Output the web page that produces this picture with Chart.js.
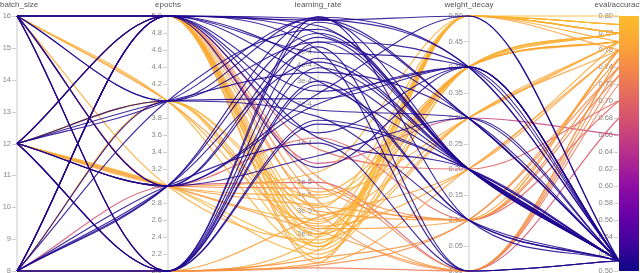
<!DOCTYPE html>
<html>
<head>
<meta charset="utf-8">
<script src="https://cdn.jsdelivr.net/npm/chart.js@4"></script>
<style>
  body { margin: 0; background: #fff; }
  #wrap { width: 640px; height: 273px; }
</style>
</head>
<body>
<div id="wrap"><canvas id="myChart"></canvas></div>
<script>
// colonnes (axes) du graphique
const dimensions = ["batch_size", "epochs", "learning_rate", "weight_decay", "eval/accuracy"];

// un run = même index dans chaque tableau
const batchSize = [
  16, 16, 16, 16, 16, 16, 16, 16, 16, 12, 12, 12, 12, 12, 12, 12, 12, 8, 8, 8,
  8, 8, 8, 8, 8, 8, 8, 8, 12, 16, 12, 8, 16, 12, 8, 16, 12, 8,
  16, 16, 16, 16, 16, 16, 16, 16, 16, 16, 16, 16, 16, 16, 16, 16, 16, 16, 16, 16,
  12, 12, 12, 12, 12, 12, 12, 12, 12, 12, 12, 8, 8, 8, 8, 8, 8, 8, 8, 8, 8, 12, 12, 8
];
const epochs = [
  5, 5, 5, 5, 4, 2, 2, 2, 3, 5, 5, 4, 4, 3, 3, 2, 2, 5, 5, 5,
  5, 4, 4, 3, 3, 3, 2, 2, 2, 5, 3, 5, 3, 5, 2, 4, 4, 3,
  5, 5, 5, 5, 5, 5, 5, 5, 5, 5, 5, 5, 4, 4, 4, 3, 3, 3, 2, 5,
  3, 3, 3, 3, 3, 3, 3, 4, 4, 4, 2, 2, 2, 2, 2, 2, 4, 4, 5, 5, 3, 5, 5, 5
];
const learningRate = [
  9.0e-4, 7.0e-4, 4.0e-4, 2.5e-4, 6.0e-4, 8.5e-4, 3.0e-4, 1.5e-4, 5.5e-4, 8.0e-4,
  1.2e-4, 9.2e-4, 3.5e-4, 6.5e-4, 2.0e-4, 4.5e-4, 9.4e-4, 5.0e-4, 3.0e-4, 8.8e-4,
  1.8e-4, 7.5e-4, 2.2e-4, 4.2e-4, 9.0e-4, 1.0e-4, 6.0e-4, 3.8e-4, 2.8e-4, 1.1e-4,
  8.0e-5, 6.5e-5, 2.4e-4, 5.2e-4, 1.4e-4, 9.3e-4, 1.6e-4, 7.0e-4,
  1.3e-5, 1.6e-5, 1.9e-5, 2.2e-5, 2.5e-5, 2.8e-5, 3.2e-5, 3.6e-5, 4.2e-5, 1.2e-5,
  2.0e-5, 5.5e-5, 1.5e-5, 2.4e-5, 3.0e-5, 1.8e-5, 4.5e-5, 1.1e-4, 1.2e-5, 9.0e-5,
  1.4e-5, 1.7e-5, 2.1e-5, 2.6e-5, 3.3e-5, 4.0e-5, 6.0e-5, 1.6e-5, 2.3e-5, 3.8e-5,
  1.15e-5, 1.1e-5, 1.3e-5, 1.5e-5, 1.9e-5, 2.7e-5, 2.0e-5, 3.4e-5, 1.7e-5, 2.9e-5,
  5.0e-5, 2.2e-5, 4.8e-5, 7.0e-5
];
const weightDecay = [
  0.4, 0.3, 0.2, 0.4, 0.2, 0.3, 0.1, 0.2, 0.0, 0.2, 0.4, 0.2, 0.3, 0.2, 0.4, 0.2, 0.1, 0.4, 0.2, 0.5,
  0.3, 0.2, 0.4, 0.2, 0.3, 0.0, 0.4, 0.2, 0.1, 0.2, 0.3, 0.4, 0.5, 0.0, 0.2, 0.4, 0.1, 0.2,
  0.5, 0.4, 0.5, 0.1, 0.4, 0.3, 0.5, 0.0, 0.4, 0.2, 0.5, 0.1, 0.4, 0.5, 0.1, 0.3, 0.0, 0.1, 0.5, 0.2,
  0.4, 0.5, 0.0, 0.4, 0.1, 0.3, 0.5, 0.5, 0.2, 0.4, 0.1, 0.0, 0.1, 0.5, 0.4, 0.2, 0.3, 0.4, 0.5, 0.0,
  0.0, 0.4, 0.1, 0.3
];
const evalAccuracy = [
  0.512, 0.512, 0.512, 0.512, 0.512, 0.512, 0.512, 0.512, 0.512, 0.512,
  0.512, 0.512, 0.512, 0.512, 0.512, 0.512, 0.512, 0.512, 0.512, 0.512,
  0.512, 0.512, 0.512, 0.512, 0.512, 0.512, 0.512, 0.512, 0.512, 0.512,
  0.512, 0.512, 0.512, 0.512, 0.512, 0.512, 0.512, 0.512,
  0.78, 0.77, 0.79, 0.76, 0.78, 0.77, 0.78, 0.75, 0.77, 0.76, 0.79, 0.74,
  0.78, 0.77, 0.76, 0.77, 0.73, 0.70, 0.76, 0.70,
  0.78, 0.79, 0.75, 0.77, 0.76, 0.77, 0.78, 0.80, 0.77, 0.78, 0.74,
  0.72, 0.75, 0.78, 0.77, 0.76, 0.76, 0.78, 0.79, 0.74,
  0.68, 0.77, 0.73, 0.66
];

// graduations de chaque axe
const batchTicks = [8, 9, 10, 11, 12, 13, 14, 15, 16];
const epochTicks = [2.0, 2.2, 2.4, 2.6, 2.8, 3.0, 3.2, 3.4, 3.6, 3.8, 4.0, 4.2, 4.4, 4.6, 4.8, 5.0];
const lrTicks = [2e-5, 3e-5, 4e-5, 5e-5, 1e-4, 2e-4, 3e-4, 4e-4, 5e-4];
const wdTicks = [0.00, 0.05, 0.10, 0.15, 0.20, 0.25, 0.30, 0.35, 0.40, 0.45, 0.50];
const accTicks = [0.50, 0.52, 0.54, 0.56, 0.58, 0.60, 0.62, 0.64, 0.66, 0.68, 0.70, 0.72, 0.74, 0.76, 0.78, 0.80];

// bornes des axes
const ranges = {
  bs: [8, 16],
  ep: [2, 5],
  lr: [1.04e-5, 9.5e-4],
  wd: [0, 0.5],
  acc: [0.5, 0.8]
};

// palette "plasma" (coupée avant le jaune)
const plasma = ["#0d0887", "#41049d", "#6a00a8", "#8f0da4", "#b12a90", "#cc4778", "#e16462", "#f2844b", "#fca636", "#fcbb2c"];

function hexToRgb(h) {
  return [parseInt(h.slice(1, 3), 16), parseInt(h.slice(3, 5), 16), parseInt(h.slice(5, 7), 16)];
}
function plasmaColor(t, alpha) {
  t = Math.max(0, Math.min(1, t)) * (plasma.length - 1);
  const i = Math.min(Math.floor(t), plasma.length - 2);
  const f = t - i;
  const a = hexToRgb(plasma[i]), b = hexToRgb(plasma[i + 1]);
  const c = a.map((v, k) => Math.round(v + (b[k] - v) * f));
  return `rgba(${c[0]}, ${c[1]}, ${c[2]}, ${alpha})`;
}

function norm(key, v) {
  const [lo, hi] = ranges[key];
  if (key === "lr") return (Math.log10(v) - Math.log10(lo)) / (Math.log10(hi) - Math.log10(lo));
  return (v - lo) / (hi - lo);
}

const datasets = batchSize.map((_, i) => {
  const acc = evalAccuracy[i];
  return {
    data: [
      { x: 0, y: norm("bs", batchSize[i]) },
      { x: 1, y: norm("ep", epochs[i]) },
      { x: 2, y: norm("lr", learningRate[i]) },
      { x: 3, y: norm("wd", weightDecay[i]) },
      { x: 4, y: norm("acc", acc) }
    ],
    borderColor: plasmaColor((acc - 0.5) / 0.3, 0.85),
    borderWidth: 1.15,
    pointRadius: 0,
    cubicInterpolationMode: "monotone",
    clip: false
  };
});

const axisDefs = [
  { id: "bs", ticks: batchTicks, fmt: v => String(v) },
  { id: "ep", ticks: epochTicks, fmt: v => v.toFixed(1) },
  { id: "lr", ticks: lrTicks, fmt: v => v.toExponential(0) },
  { id: "wd", ticks: wdTicks, fmt: v => v.toFixed(2) },
  { id: "acc", ticks: accTicks, fmt: v => v.toFixed(2) }
];

// dessine les axes verticaux, graduations, titres et barre de couleur
const parallelAxes = {
  id: "parallelAxes",
  beforeDatasetsDraw(chart) {
    const ctx = chart.ctx;
    const xs = chart.scales.x;
    const area = chart.chartArea;
    ctx.save();
    axisDefs.forEach((ax, j) => {
      const x = Math.round(xs.getPixelForValue(j));
      const sc = chart.scales[ax.id];
      if (j < 4) {
        ctx.strokeStyle = "#e4e4e4";
        ctx.lineWidth = 2;
        ctx.beginPath();
        ctx.moveTo(x, area.top);
        ctx.lineTo(x, area.bottom);
        ctx.stroke();
      } else {
        const g = ctx.createLinearGradient(0, area.bottom, 0, area.top);
        plasma.forEach((c, k) => g.addColorStop(k / (plasma.length - 1), c));
        ctx.fillStyle = g;
        ctx.fillRect(x, area.top, 20, area.bottom - area.top);
      }
      ctx.font = "7.5px 'Liberation Sans', sans-serif";
      ctx.fillStyle = "#888";
      ctx.textAlign = "right";
      ctx.textBaseline = "middle";
      ax.ticks.forEach(v => {
        const y = sc.getPixelForValue(v);
        ctx.strokeStyle = "#cfcfcf";
        ctx.lineWidth = 1;
        ctx.beginPath();
        ctx.moveTo(x - 5, Math.round(y) + 0.5);
        ctx.lineTo(x - 1, Math.round(y) + 0.5);
        ctx.stroke();
        ctx.fillText(ax.fmt(v), x - 6, y);
      });
      // titre : centré sur l'axe, sauf le premier qui reste dans le cadre
      ctx.font = "8px 'Liberation Sans', sans-serif";
      ctx.fillStyle = "#555";
      const w = ctx.measureText(dimensions[j]).width;
      ctx.textAlign = "center";
      ctx.fillText(dimensions[j], Math.max(x, w / 2), 5);
    });
    ctx.restore();
  }
};

const ctx = document.getElementById("myChart");

new Chart(ctx, {
  type: "line",
  data: { datasets: datasets },
  options: {
    responsive: true,
    maintainAspectRatio: false,
    animation: false,
    layout: { padding: { left: 17, right: 21, top: 16, bottom: 2 } },
    plugins: {
      legend: { display: false },
      tooltip: { enabled: false }
    },
    scales: {
      x: { type: "linear", min: 0, max: 4, display: false },
      y: { type: "linear", min: 0, max: 1, display: false },
      bs: { type: "linear", axis: "y", min: ranges.bs[0], max: ranges.bs[1], display: false },
      ep: { type: "linear", axis: "y", min: ranges.ep[0], max: ranges.ep[1], display: false },
      lr: { type: "logarithmic", axis: "y", min: ranges.lr[0], max: ranges.lr[1], display: false },
      wd: { type: "linear", axis: "y", min: ranges.wd[0], max: ranges.wd[1], display: false },
      acc: { type: "linear", axis: "y", min: ranges.acc[0], max: ranges.acc[1], display: false }
    }
  },
  plugins: [parallelAxes]
});
</script>
</body>
</html>
